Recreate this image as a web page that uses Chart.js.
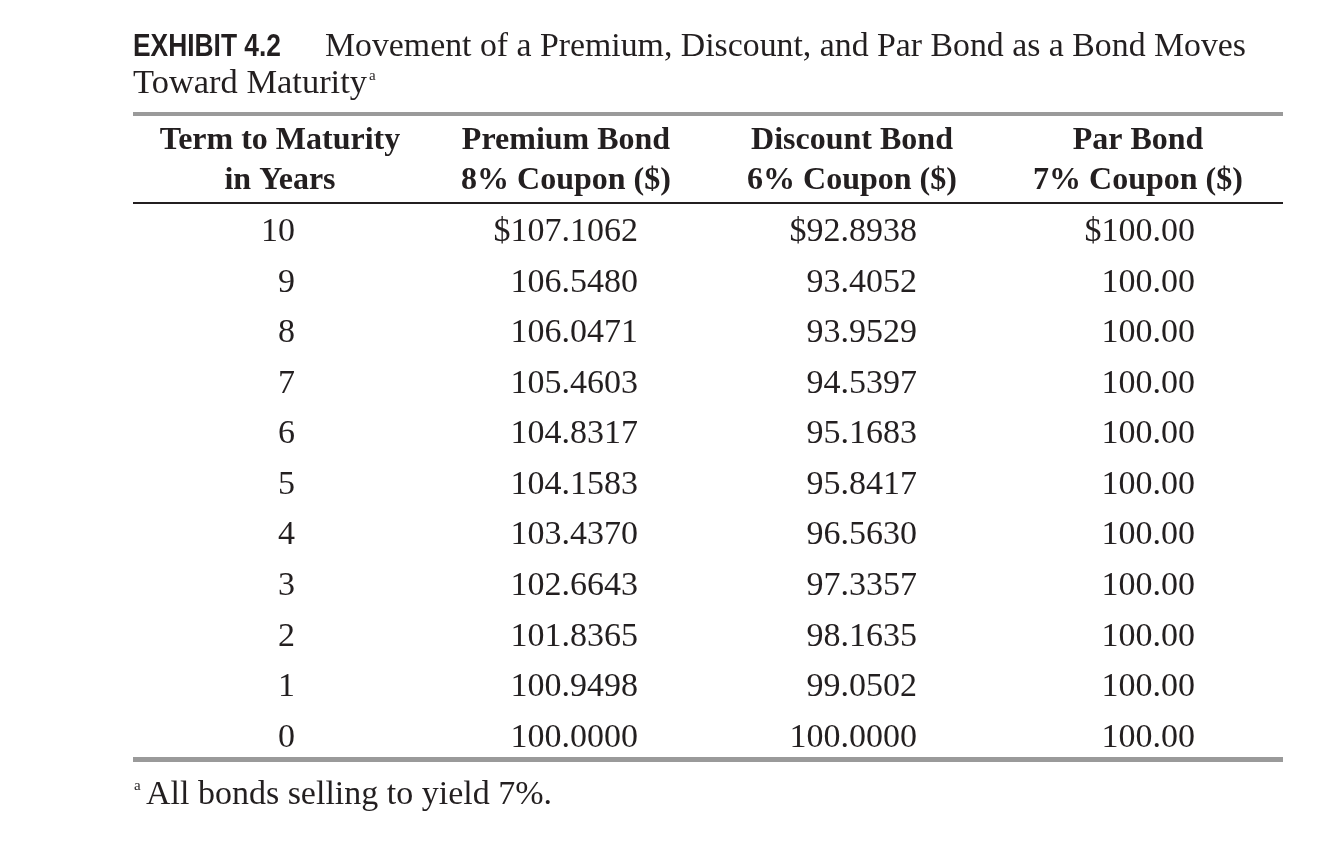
<!DOCTYPE html>
<html>
<head>
<meta charset="utf-8">
<script src="https://cdn.jsdelivr.net/npm/chart.js@4.4.1/dist/chart.umd.min.js"></script>
<style>
html,body{margin:0;padding:0;background:#fff;}
canvas{display:block;}
</style>
</head>
<body>
<canvas id="c" width="1328" height="842"></canvas>
<script>
// ---- data ----
const exhibitLabel = "EXHIBIT 4.2";
const titleLine1 = "Movement of a Premium, Discount, and Par Bond as a Bond Moves";
const titleLine2 = "Toward Maturity";
const columnHeaders = [
  ["Term to Maturity", "in Years"],
  ["Premium Bond", "8% Coupon ($)"],
  ["Discount Bond", "6% Coupon ($)"],
  ["Par Bond", "7% Coupon ($)"]
];
const terms = [10, 9, 8, 7, 6, 5, 4, 3, 2, 1, 0];
const premiumBond = [107.1062, 106.5480, 106.0471, 105.4603, 104.8317, 104.1583, 103.4370, 102.6643, 101.8365, 100.9498, 100.0000];
const discountBond = [92.8938, 93.4052, 93.9529, 94.5397, 95.1683, 95.8417, 96.5630, 97.3357, 98.1635, 99.0502, 100.0000];
const parBond = [100.00, 100.00, 100.00, 100.00, 100.00, 100.00, 100.00, 100.00, 100.00, 100.00, 100.00];
const footnote = "All bonds selling to yield 7%.";

// ---- formatting / style ----
const INK = "#231f20";
const RULE_GRAY = "#9a9a9a";
const SERIF = "'Liberation Serif', 'DejaVu Serif', serif";
const colRightOffset = [15, 72, 65, 57];
const columnText = [
  terms.map(t => String(t)),
  premiumBond.map((v, i) => (i === 0 ? "$" : "") + v.toFixed(4)),
  discountBond.map((v, i) => (i === 0 ? "$" : "") + v.toFixed(4)),
  parBond.map((v, i) => (i === 0 ? "$" : "") + v.toFixed(2))
];

const datasets = columnText.map((col, ci) => ({
  label: columnHeaders[ci].join(" "),
  data: terms.map(t => ({x: ci, y: t})),
  pointRadius: 0,
  pointHoverRadius: 0,
  showLine: false
}));

function fitText(ctx, text, x, y, targetWidth) {
  const w = ctx.measureText(text).width;
  ctx.save();
  ctx.translate(x, y);
  ctx.scale(targetWidth / w, 1);
  ctx.fillText(text, 0, 0);
  ctx.restore();
}

const tablePlugin = {
  id: "tablePlugin",
  afterDatasetsDraw(chart) {
    const ctx = chart.ctx;
    const xs = chart.scales.x;
    const left = 133, right = 1283;
    ctx.save();
    // title
    ctx.fillStyle = INK;
    ctx.textBaseline = "alphabetic";
    ctx.textAlign = "left";
    ctx.font = "bold 31px 'Liberation Sans', 'DejaVu Sans', sans-serif";
    fitText(ctx, exhibitLabel, 133, 56, 148);
    ctx.font = "33px " + SERIF;
    fitText(ctx, titleLine1, 325, 56, 921);
    fitText(ctx, titleLine2, 133, 93, 234);
    ctx.font = "15px " + SERIF;
    ctx.fillText("a", 369, 80);

    // rules
    ctx.fillStyle = RULE_GRAY;
    ctx.fillRect(left, 112, right - left, 4);
    ctx.fillRect(left, 757, right - left, 5);
    ctx.fillStyle = INK;
    ctx.fillRect(left, 202, right - left, 2);

    // headers
    ctx.font = "bold 32px " + SERIF;
    ctx.textAlign = "center";
    ctx.textBaseline = "middle";
    columnHeaders.forEach((h, ci) => {
      const cx = xs.getPixelForValue(ci);
      ctx.fillText(h[0], cx, 141);
      ctx.fillText(h[1], cx, 181);
    });

    // cells
    ctx.font = "34px " + SERIF;
    ctx.textAlign = "right";
    chart.data.datasets.forEach((ds, ci) => {
      const meta = chart.getDatasetMeta(ci);
      meta.data.forEach((pt, ri) => {
        ctx.fillText(columnText[ci][ri], pt.x + colRightOffset[ci], pt.y + 2);
      });
    });

    // footnote
    ctx.textAlign = "left";
    ctx.textBaseline = "alphabetic";
    ctx.font = "15px " + SERIF;
    ctx.fillText("a", 134, 790);
    ctx.font = "33px " + SERIF;
    fitText(ctx, footnote, 146, 804, 406);
    ctx.restore();
  }
};

new Chart(document.getElementById("c"), {
  type: "scatter",
  data: { datasets },
  options: {
    responsive: false,
    animation: false,
    events: [],
    layout: { padding: { left: 137, right: 47, top: 205, bottom: 81 } },
    plugins: { legend: { display: false }, tooltip: { enabled: false }, title: { display: false } },
    scales: {
      x: { type: "linear", min: -0.5, max: 3.5, display: false },
      y: { type: "linear", min: -0.5, max: 10.5, display: false }
    }
  },
  plugins: [tablePlugin]
});
</script>
</body>
</html>
